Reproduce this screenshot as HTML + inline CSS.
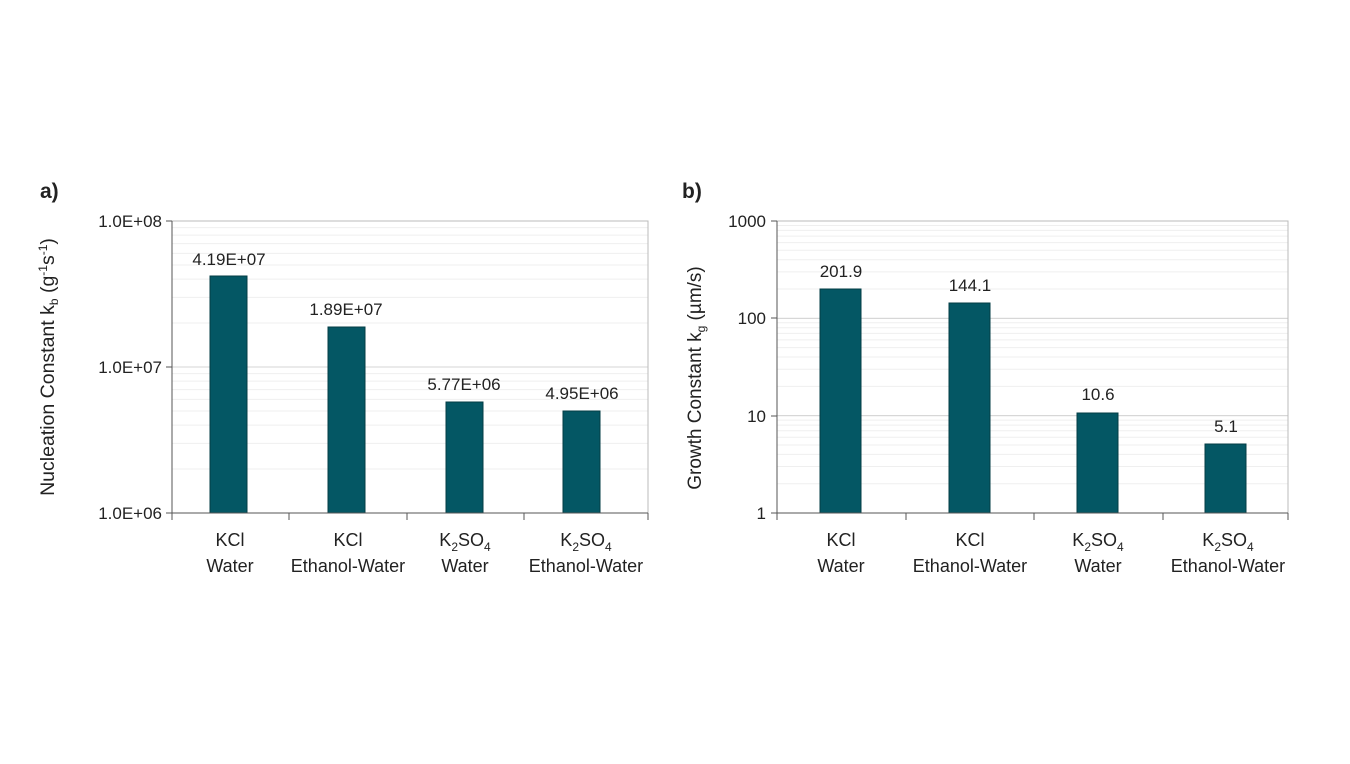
<!DOCTYPE html>
<html><head><meta charset="utf-8"><style>
body{margin:0;background:#fff;}
svg text{font-family:"Liberation Sans",sans-serif;fill:#222;}
</style></head><body>
<svg id="s" width="1350" height="759" xmlns="http://www.w3.org/2000/svg">
<g id="grid"></g>
<!-- chart a -->
<text x="40" y="198" font-size="21" font-weight="bold">a)</text>
<rect x="172" y="221" width="476" height="292" fill="none" stroke="#bbb"/>
<g fill="#045764" stroke="#033c45">
<rect x="210" y="276" width="37" height="237"/>
<rect x="328" y="327" width="37" height="186"/>
<rect x="446" y="402" width="37" height="111"/>
<rect x="563" y="411" width="37" height="102"/>
</g>
<line x1="172" y1="221" x2="172" y2="513" stroke="#555"/>
<line x1="166" y1="513" x2="648" y2="513" stroke="#555"/>
<g stroke="#555"><line x1="166" y1="221" x2="172" y2="221"/><line x1="166" y1="367" x2="172" y2="367"/>
<line x1="172" y1="513" x2="172" y2="520"/><line x1="289" y1="513" x2="289" y2="520"/><line x1="407" y1="513" x2="407" y2="520"/><line x1="524" y1="513" x2="524" y2="520"/><line x1="648" y1="513" x2="648" y2="520"/></g>
<g font-size="17" text-anchor="end"><text x="162" y="227">1.0E+08</text><text x="162" y="373">1.0E+07</text><text x="162" y="519">1.0E+06</text></g>
<g font-size="17" text-anchor="middle">
<text x="229" y="265">4.19E+07</text><text x="346" y="315">1.89E+07</text><text x="464" y="390">5.77E+06</text><text x="582" y="399">4.95E+06</text>
</g>
<g font-size="18" text-anchor="middle">
<text x="230" y="546">KCl</text><text x="230" y="572">Water</text>
<text x="348" y="546">KCl</text><text x="348" y="572">Ethanol-Water</text>
<text x="465" y="546">K<tspan font-size="12" dy="5">2</tspan><tspan dy="-5">SO</tspan><tspan font-size="12" dy="5">4</tspan></text><text x="465" y="572">Water</text>
<text x="586" y="546">K<tspan font-size="12" dy="5">2</tspan><tspan dy="-5">SO</tspan><tspan font-size="12" dy="5">4</tspan></text><text x="586" y="572">Ethanol-Water</text>
</g>
<text transform="translate(54,367) rotate(-90)" font-size="19.5" text-anchor="middle">Nucleation Constant k<tspan font-size="12" dy="4">b</tspan><tspan dy="-4"> (g</tspan><tspan font-size="12" dy="-7">-1</tspan><tspan dy="7">s</tspan><tspan font-size="12" dy="-7">-1</tspan><tspan dy="7">)</tspan></text>

<!-- chart b -->
<text x="682" y="198" font-size="21" font-weight="bold">b)</text>
<rect x="777" y="221" width="511" height="292" fill="none" stroke="#bbb"/>
<g fill="#045764" stroke="#033c45">
<rect x="820" y="289" width="41" height="224"/>
<rect x="949" y="303" width="41" height="210"/>
<rect x="1077" y="413" width="41" height="100"/>
<rect x="1205" y="444" width="41" height="69"/>
</g>
<line x1="777" y1="221" x2="777" y2="513" stroke="#555"/>
<line x1="771" y1="513" x2="1288" y2="513" stroke="#555"/>
<g stroke="#555"><line x1="771" y1="221" x2="777" y2="221"/><line x1="771" y1="318" x2="777" y2="318"/><line x1="771" y1="416" x2="777" y2="416"/>
<line x1="777" y1="513" x2="777" y2="520"/><line x1="906" y1="513" x2="906" y2="520"/><line x1="1034" y1="513" x2="1034" y2="520"/><line x1="1163" y1="513" x2="1163" y2="520"/><line x1="1288" y1="513" x2="1288" y2="520"/></g>
<g font-size="17" text-anchor="end"><text x="766" y="227">1000</text><text x="766" y="324">100</text><text x="766" y="422">10</text><text x="766" y="519">1</text></g>
<g font-size="17" text-anchor="middle">
<text x="841" y="277">201.9</text><text x="970" y="291">144.1</text><text x="1098" y="400">10.6</text><text x="1226" y="432">5.1</text>
</g>
<g font-size="18" text-anchor="middle">
<text x="841" y="546">KCl</text><text x="841" y="572">Water</text>
<text x="970" y="546">KCl</text><text x="970" y="572">Ethanol-Water</text>
<text x="1098" y="546">K<tspan font-size="12" dy="5">2</tspan><tspan dy="-5">SO</tspan><tspan font-size="12" dy="5">4</tspan></text><text x="1098" y="572">Water</text>
<text x="1228" y="546">K<tspan font-size="12" dy="5">2</tspan><tspan dy="-5">SO</tspan><tspan font-size="12" dy="5">4</tspan></text><text x="1228" y="572">Ethanol-Water</text>
</g>
<text transform="translate(701,378) rotate(-90)" font-size="19" text-anchor="middle">Growth Constant k<tspan font-size="12" dy="4">g</tspan><tspan dy="-4"> (µm/s)</tspan></text>
</svg>
<script>
var g=document.getElementById('grid'),ns='http://www.w3.org/2000/svg';
function grid(x1,x2,top,dec,n){for(var d=0;d<n;d++){for(var k=1;k<=10;k++){var y=top+(d+1)*dec-Math.log10(k)*dec;var l=document.createElementNS(ns,'line');l.setAttribute('x1',x1);l.setAttribute('x2',x2);l.setAttribute('y1',y);l.setAttribute('y2',y);l.setAttribute('stroke',k==1||k==10?'#d6d6d6':'#efefef');g.appendChild(l);}}}
grid(172,648,221,146,2);grid(777,1288,221,97.33,3);
</script>
</body></html>
